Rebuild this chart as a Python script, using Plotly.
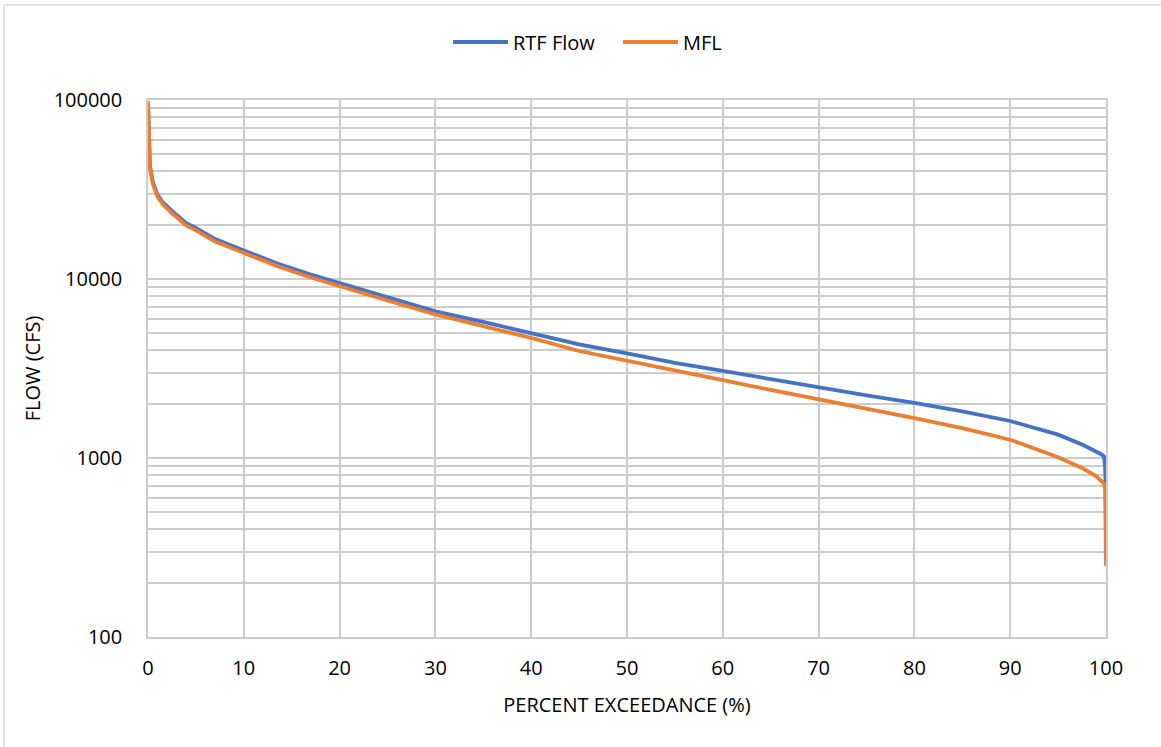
import plotly.graph_objects as go

# ---- data ----
pct = [0, 0.05, 0.1, 0.2, 0.5, 1, 1.5, 2.5, 4, 5, 7, 10, 13.5, 17, 20, 25, 30, 35,
       40, 45, 50, 55, 60, 65, 70, 75, 80, 85, 90, 95, 97.5, 99, 99.5, 99.8, 99.9, 100]
rtf_flow = [98000, 70000, 60000, 43000, 35000, 29500, 27000, 24000, 20500, 19300, 16700,
            14500, 12200, 10600, 9500, 7900, 6600, 5760, 5000, 4310, 3840, 3400, 3065,
            2750, 2470, 2240, 2030, 1820, 1610, 1350, 1190, 1090, 1050, 1020, 900, 600]
mfl = [98000, 68000, 59000, 42000, 34000, 28800, 26300, 23300, 19900, 18700, 16200,
       14000, 11800, 10200, 9100, 7580, 6340, 5460, 4690, 3960, 3480, 3060, 2720,
       2400, 2130, 1890, 1670, 1470, 1265, 1010, 880, 790, 750, 720, 680, 250]

y_major = [100, 1000, 10000, 100000]
y_major_text = ["100", "1000", "10000", "100000"]
y_minor = [m * d for d in (100, 1000, 10000) for m in range(2, 10)]
x_ticks = list(range(0, 101, 10))

FONT = "Open Sans"
FS = 20
GRID = "#cccccc"
W, H = 1161, 747
ML, MR, MT, MB = 148, 55, 100, 110

fig = go.Figure()
fig.add_trace(go.Scatter(x=pct, y=rtf_flow, mode="lines", name="RTF Flow",
                         line=dict(color="#4472C4", width=3.8)))
fig.add_trace(go.Scatter(x=pct, y=mfl, mode="lines", name="MFL",
                         line=dict(color="#ED7D31", width=3.8)))

pw, ph = W - ML - MR, H - MT - MB
def px_x(p):
    return (p - ML) / pw
def px_y(p):
    return (H - MB - p) / ph

fig.update_layout(
    width=W, height=H,
    margin=dict(l=ML, r=MR, t=MT, b=MB, autoexpand=False),
    paper_bgcolor="white", plot_bgcolor="white",
    font=dict(family=FONT, size=FS, color="#000000"),
    showlegend=True,
    legend=dict(orientation="h", xref="container", yref="container",
                x=448 / W, xanchor="left", y=1 - 42 / H, yanchor="middle",
                font=dict(size=FS), itemwidth=55, entrywidth=100,
                bgcolor="rgba(0,0,0,0)"),
    xaxis=dict(range=[0, 100], tickvals=x_ticks, showgrid=True, gridcolor=GRID,
               gridwidth=1.5, zeroline=False, showline=True, linecolor=GRID,
               linewidth=1.5, mirror=True, ticks="", ticklabelstandoff=12,
               automargin=False,
               title=dict(text="PERCENT EXCEEDANCE (%)", standoff=18,
                          font=dict(size=FS))),
    yaxis=dict(type="log", range=[2, 5], tickvals=y_major, ticktext=y_major_text,
               showgrid=True, gridcolor=GRID, gridwidth=1.5, zeroline=False,
               showline=True, linecolor=GRID, linewidth=1.5, mirror=True,
               ticks="", ticklabelstandoff=20, automargin=False,
               minor=dict(tickvals=y_minor, showgrid=True, gridcolor=GRID,
                          gridwidth=1.5, ticks=""),
               title=dict(text="FLOW (CFS)", standoff=8, font=dict(size=FS))),
    shapes=[
        dict(type="line", xref="paper", yref="paper", x0=px_x(4), x1=px_x(W + 5),
             y0=px_y(5), y1=px_y(5), line=dict(color="#d9d9d9", width=1.5)),
        dict(type="line", xref="paper", yref="paper", x0=px_x(4), x1=px_x(4),
             y0=px_y(5), y1=px_y(H + 5), line=dict(color="#d9d9d9", width=1.5)),
    ],
)

fig.write_html("out.html")
